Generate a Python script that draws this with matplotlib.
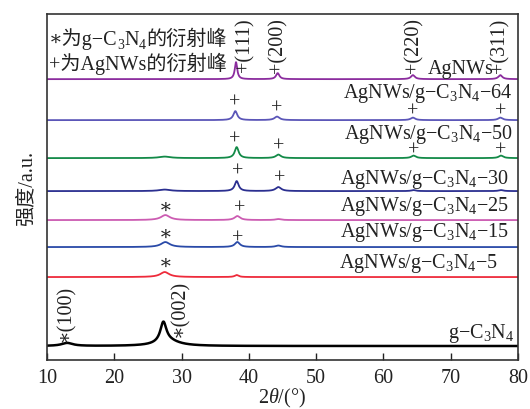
import numpy as np
import matplotlib
matplotlib.use("Agg")
import matplotlib.pyplot as plt
from matplotlib.transforms import IdentityTransform

plt.rcParams['font.family'] = ['Liberation Serif', 'DejaVu Serif', 'Noto Sans CJK SC']
plt.rcParams['mathtext.fontset'] = 'custom'
plt.rcParams['mathtext.rm'] = 'Liberation Serif'
plt.rcParams['mathtext.it'] = 'Liberation Serif:italic'

FS = 14.5
TXT = '#222222'

# samples, top to bottom: name, offset, colour, peaks (2theta, height, half width)
names = ['AgNWs', 'AgNWs/g−C$_3$N$_4$−64', 'AgNWs/g−C$_3$N$_4$−50',
         'AgNWs/g−C$_3$N$_4$−30', 'AgNWs/g−C$_3$N$_4$−25',
         'AgNWs/g−C$_3$N$_4$−15', 'AgNWs/g−C$_3$N$_4$−5', 'g−C$_3$N$_4$']
offsets = [281, 240, 202, 169, 140, 113, 83, 14]
colors = ['#8b2c9e', '#5b56b8', '#138a48', '#2b2f90', '#cc5cb2',
          '#2a4aa8', '#ee2b3b', '#000000']
peaks = [
    [(38.1, 17, 0.22), (44.3, 6, 0.3), (64.4, 4, 0.35), (77.4, 4, 0.35)],
    [(38.0, 9, 0.35), (44.2, 3.5, 0.45), (64.4, 2.5, 0.4), (77.4, 2.5, 0.4)],
    [(27.5, 1.5, 1.0), (38.2, 11, 0.35), (44.4, 3.5, 0.45), (64.5, 2.5, 0.4), (77.5, 2.5, 0.4)],
    [(27.5, 1.5, 1.0), (38.2, 10, 0.35), (44.4, 4, 0.5), (64.5, 1, 0.4), (77.5, 1, 0.4)],
    [(27.6, 5, 0.8), (38.3, 4, 0.5), (44.4, 1, 0.5)],
    [(27.6, 5, 0.8), (38.3, 5, 0.45), (44.4, 1.5, 0.5)],
    [(27.5, 5, 0.8), (38.2, 2, 0.35)],
    [(13.0, 3, 1.0), (27.3, 20, 0.55), (28.0, 5, 2.0)],
]
lws = [1.3, 1.3, 1.3, 1.3, 1.3, 1.3, 1.3, 1.8]

# label anchors (right edge x, baseline y)
label_pos = [(76.4, 287), (79.25, 263), (79.25, 222), (78.65, 177),
             (78.65, 150), (78.65, 124), (77.0, 93), (79.4, 23)]

# peak markers: (x, y, symbol)
marks = [(37.9, 258, '+'), (44.2, 252, '+'), (64.3, 249, '+'), (77.4, 249, '+'),
         (37.9, 221, '+'), (44.5, 214, '+'), (64.5, 210, '+'), (77.5, 210, '+'),
         (38.4, 189, '+'), (44.6, 182, '+'),
         (27.6, 153, '∗'), (38.6, 152, '+'),
         (27.6, 126, '∗'), (38.4, 122, '+'),
         (27.6, 97, '∗')]
# rotated peak indices: (x, bottom y, text)
hkl = [(39.4, 289, '+(111)'), (44.3, 288, '+(200)'), (64.5, 288, '+(220)'),
       (77.3, 288, '+(311)'), (12.8, 19, '∗(100)'), (29.7, 24, '∗(002)')]

two_theta = np.linspace(10, 80, 2801)


def pattern(base, plist):
    y = np.full_like(two_theta, float(base))
    for pos, h, w in plist:
        y += h / (1 + ((two_theta - pos) / w) ** 2)
    return y


def rich_text(ax, x, y, pieces):
    # pieces: (text, is_subscript)
    renderer = ax.figure.canvas.get_renderer()
    x0, y0 = ax.transData.transform((x, y))
    for s, sub in pieces:
        t = ax.text(x0, y0 - (4 if sub else 0), s, transform=IdentityTransform(),
                    fontsize=10 if sub else FS, va='baseline', ha='left', color=TXT)
        x0 = t.get_window_extent(renderer).x1


fig = plt.figure(figsize=(5.3, 4.1), dpi=100)
ax = fig.add_axes([0.0887, 0.1195, 0.8883, 0.8435])
ax.set_xlim(10, 80)
ax.set_ylim(0, 346)

for name, off, col, pk, lw, (lx, ly) in zip(names, offsets, colors, peaks, lws, label_pos):
    ax.plot(two_theta, pattern(off, pk), color=col, lw=lw)
    ax.text(lx, ly, name, ha='right', va='baseline', fontsize=FS, color=TXT)

for x, y, s in marks:
    ax.text(x, y, s, ha='center', va='center', fontsize=FS, color=TXT)
for x, y, s in hkl:
    ax.text(x, y, s, ha='center', va='bottom', rotation=90, fontsize=FS, color=TXT)

rich_text(ax, 10.3, 316, [('∗为g−C', False), ('3', True), ('N', False),
                          ('4', True), ('的衍射峰', False)])
rich_text(ax, 10.3, 291, [('+为AgNWs的衍射峰', False)])

ax.set_xticks(np.arange(10, 81, 10))
ax.set_yticks([])
ax.tick_params(axis='x', direction='in', length=5, width=1, labelsize=FS,
               colors=TXT, pad=6)
for sp in ax.spines.values():
    sp.set_linewidth(1.2)
    sp.set_color('#333333')
ax.set_xlabel('2$\\mathit{\\theta}$/(°)', fontsize=FS, color=TXT, labelpad=-1)
ax.set_ylabel('强度/a.u.', fontsize=FS, color=TXT, labelpad=8)

fig.savefig('out.png', dpi=100)
